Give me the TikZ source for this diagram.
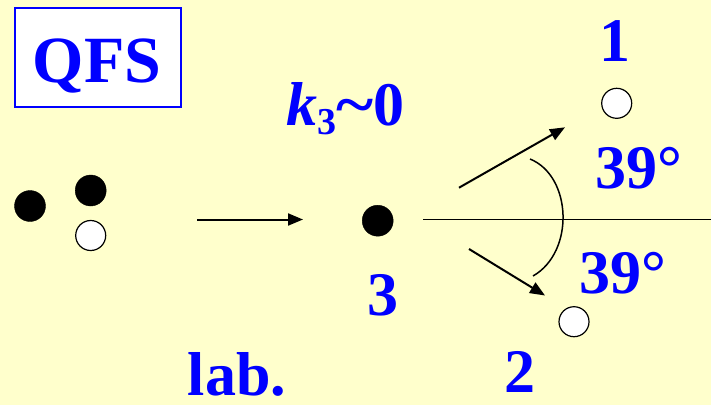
\documentclass[tikz,border=0pt]{standalone}
\usepackage{fontspec}
\setmainfont{Liberation Serif}
\usetikzlibrary{arrows.meta}
\definecolor{bgyellow}{RGB}{255,255,204}
\definecolor{qblue}{RGB}{0,0,255}
\tikzset{
  lbl/.style={text=qblue, font=\fontsize{62}{62}\selectfont\bfseries, inner sep=0pt, anchor=base},
  fulldot/.style={circle, fill=black, draw=black, minimum size=31pt, inner sep=0pt},
  emptydot/.style={circle, fill=white, draw=black, line width=1.2pt, minimum size=30pt, inner sep=0pt},
  arr/.style={line width=2pt, -{Triangle[length=15pt,width=12pt]}},
  thin/.style={line width=1.5pt}
}
\begin{document}
\begin{tikzpicture}[x=1pt,y=-1pt]
\fill[bgyellow] (0,0) rectangle (711,405);
\useasboundingbox (0,0) rectangle (711,405);
% QFS box
\node[draw=qblue, line width=2pt, fill=white, minimum width=166pt, minimum height=99pt, inner sep=0pt] (box) at (98,57.5) {};
\node[lbl, font=\fontsize{66}{66}\selectfont\bfseries] (qfs) at (97,82) {QFS};
% left dots
\node[fulldot] (a) at (30,206) {};
\node[fulldot] (b) at (90.7,190.5) {};
\node[emptydot] (c) at (90.7,235.5) {};
% horizontal arrow
\coordinate (h1) at (197,219.5);
\coordinate (h2) at (303,219.5);
\draw[arr] (h1) -- (h2);
% particle 3
\node[fulldot] (d3) at (377.7,220.7) {};
\node[lbl] (l3) at (383,315) {3};
\node[lbl, anchor=base west] (k) at (286,125) {\textit{k}\raisebox{-9pt}{\fontsize{38}{38}\selectfont 3}\scalebox{1.15}[1]{\char"007E}0};
\node[lbl] (lab) at (237,395) {lab.};
% axis line
\coordinate (ax1) at (423,219.3);
\coordinate (ax2) at (711,219.3);
\draw[thin] (ax1) -- (ax2);
% outgoing arrows
\coordinate (u1) at (459,187.7);
\coordinate (u2) at (565,127.3);
\draw[arr] (u1) -- (u2);
\coordinate (w1) at (469,249);
\coordinate (w2) at (545,295.5);
\draw[arr] (w1) -- (w2);
% angle arc
\coordinate (c1) at (530,159);
\coordinate (c2) at (533,276);
\draw[thin] (c1) .. controls (572,176) and (575,252) .. (c2);
% particles 1 and 2
\node[emptydot] (p1) at (616.7,103.3) {};
\node[emptydot] (p2) at (574,321.7) {};
\node[lbl] (l1) at (615,61) {1};
\node[lbl] (l2) at (520,392) {2};
\node[lbl] (ang1) at (639,188) {39°};
\node[lbl] (ang2) at (623,293) {39°};
\end{tikzpicture}
\end{document}
